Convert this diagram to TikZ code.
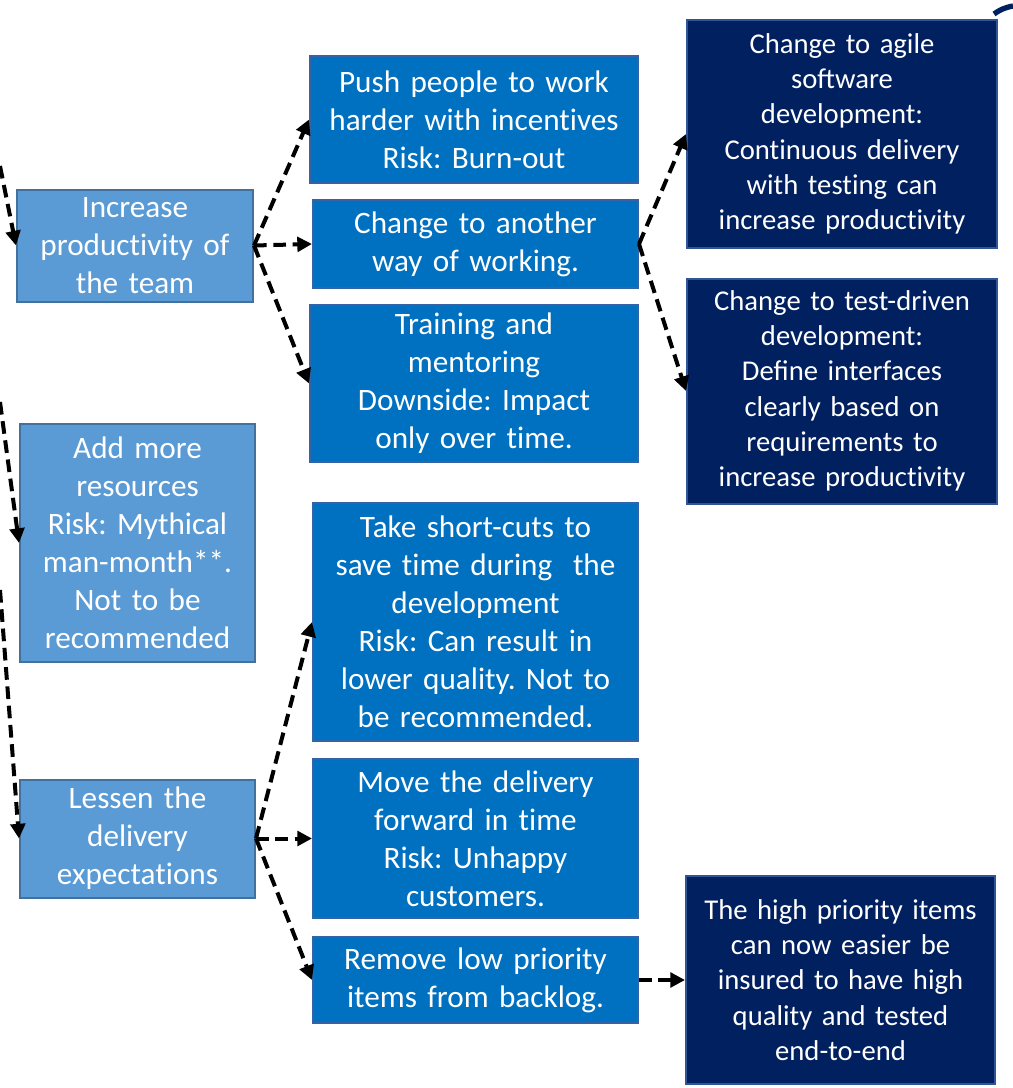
\documentclass[tikz,border=0pt]{standalone}
\usepackage{fontspec}
\setmainfont{Carlito}
\usetikzlibrary{arrows.meta}
\newcommand\tii{t\kern0pt i}
\definecolor{lblue}{HTML}{5B9BD5}
\definecolor{lborder}{HTML}{41719C}
\definecolor{mblue}{HTML}{0070C0}
\definecolor{mborder}{HTML}{3564A6}
\definecolor{navy}{HTML}{002060}
\definecolor{nborder}{HTML}{2F5597}
\tikzset{
  sz/.style 2 args={minimum width=#1*0.75pt, minimum height=#2*0.75pt, text width=#1*0.75pt-6pt},
  basebox/.style={draw, line width=1.5pt, text=white, align=center, inner sep=0pt,
     font=\frenchspacing\fontsize{23.4}{28.5}\selectfont},
  lbox/.style={basebox, fill=lblue, draw=lborder},
  mbox/.style={basebox, fill=mblue, draw=mborder},
  nbox/.style={basebox, fill=navy, draw=nborder, font=\frenchspacing\fontsize{21.5}{26.5}\selectfont},
  conn/.style={line width=3pt, dash pattern=on 9.5pt off 5pt, -{Triangle[length=11pt,width=11pt]}}
}
\begin{document}
\begin{tikzpicture}[x=0.75pt,y=-0.75pt]
\useasboundingbox (0,0) rectangle (1013,1088);
% left column
\node[lbox, sz={236}{112}] (a1) at (135,245.5) {Increase\\produc\tii vity of\\the team};
\node[lbox, sz={235}{238}] (a2) at (137.5,543) {Add more\\resources\\Risk: Mythical\\man-month**.\\Not to be\\recommended};
\node[lbox, sz={235}{118}] (a3) at (137.5,838.5) {Lessen the\\delivery\\expecta\tii ons};
% middle column
\node[mbox, sz={328}{126}] (b1) at (474,119.5) {Push people to work\\harder with incen\tii ves\\Risk: Burn-out};
\node[mbox, sz={325}{88}] (b2) at (475.5,244) {Change to another\\way of working.};
\node[mbox, sz={328}{157}] (b3) at (474,383.5) {Training and\\mentoring\\Downside: Impact\\only over \tii me.};
\node[mbox, sz={325}{238}] (b4) at (475.5,622) {Take short-cuts to\\save \tii me during~ the\\development\\Risk: Can result in\\lower quality. Not to\\be recommended.};
\node[mbox, sz={325}{159}] (b5) at (475.5,838.5) {Move the delivery\\forward in \tii me\\Risk: Unhappy\\customers.};
\node[mbox, sz={325}{86}] (b6) at (475.5,980) {Remove low priority\\items from backlog.};
% right column
\node[nbox, sz={310}{227}] (c1) at (842,134) {Change to agile\\so{}ftware\\development:\\Con\tii nuous delivery\\with tes\tii ng can\\increase produc\tii vity};
\node[nbox, sz={310}{225}] (c2) at (842,391) {Change to test-driven\\development:\\Define interfaces\\clearly based on\\requirements to\\increase produc\tii vity};
\node[nbox, sz={309}{208}] (c3) at (840.5,980) {The high priority items\\can now easier be\\insured to have high\\quality and tested\\end-to-end};
% incoming connectors from outside
\coordinate (in1) at (0,166);
\coordinate (in2) at (0,402);
\coordinate (in3) at (0,590);
\draw[conn] (in1) -- (a1.west);
\draw[conn] (in2) -- (a2.west);
\draw[conn] (in3) -- (a3.west);
% connectors
\draw[conn] (a1.east) -- (b1.west);
\draw[conn] (a1.east) -- (b2.west);
\draw[conn] (a1.east) -- (b3.west);
\draw[conn] (b2.east) -- (c1.west);
\draw[conn] (b2.east) -- (c2.west);
\draw[conn] (a3.east) -- (b4.west);
\draw[conn] (a3.east) -- (b5.west);
\draw[conn] (a3.east) -- (b6.west);
\draw[conn] (b6.east) -- (c3.west);
% top-right arc fragment
\draw[navy, line width=4pt] (994,14) to[bend left=12] (1013,6);
\end{tikzpicture}
\end{document}
